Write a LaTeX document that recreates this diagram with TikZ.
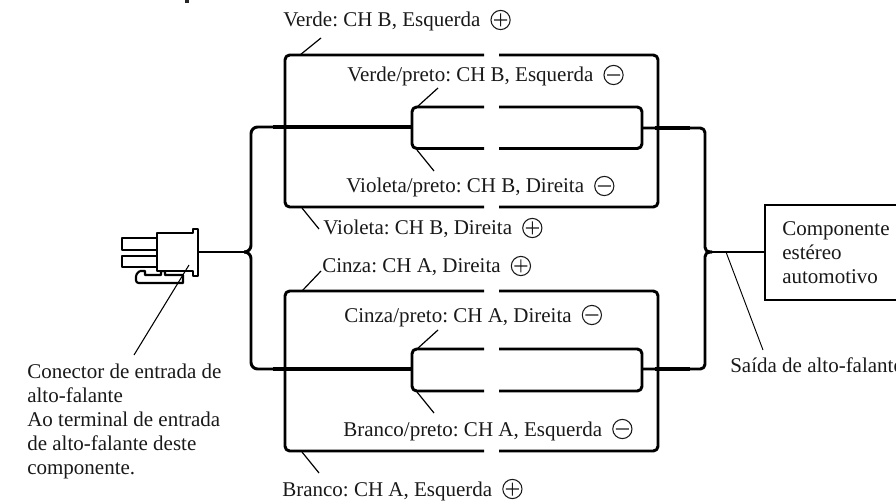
\documentclass[tikz,border=0pt]{standalone}
\usepackage{fontspec}
\setmainfont{Liberation Serif}
\frenchspacing
\tikzset{
  wire/.style={line width=2.2pt,line join=round,rounded corners=3.5pt},
  thin leader/.style={line width=0.9pt},
  lab/.style={inner sep=0pt,anchor=base west,font=\fontsize{15.75}{18}\selectfont,text=black!90},
  multi/.style={inner sep=0pt,anchor=north west,align=left,font=\fontsize{15.75}{18}\selectfont,text=black!90},
  conn/.style={line width=1.6pt,line join=round,fill=white}
}
\newcommand{\cplus}{\hspace{3.6pt}\tikz[baseline=0pt,x=0.75pt,y=0.75pt]{\draw[line width=0.8pt] (0,7) circle (9.6) (-6.5,7)--(6.5,7) (0,0.5)--(0,13.5);}}
\newcommand{\cminus}{\hspace{3.6pt}\tikz[baseline=0pt,x=0.75pt,y=0.75pt]{\draw[line width=0.8pt] (0,7) circle (9.6) (-6.5,7)--(6.5,7);}}
\begin{document}
\begin{tikzpicture}[x=0.75pt,y=-0.75pt]
\useasboundingbox (0,0) rectangle (896,502);
\clip (0,0) rectangle (896,502);
\fill[black!85] (185,0) rectangle (188.5,3);
% connector
\draw[conn] (122,238) rectangle (157,250);
\draw[conn] (122,256) rectangle (157,267);
\draw[conn] (140,271) -- (145,271) -- (145,275) -- (161,275) -- (161,271) -- (165,271) -- (165,275) -- (183,275) -- (183,283) -- (139,283) [rounded corners=2pt] -- (136,283) -- (136,274) -- (140,271);
\draw[line width=1.6pt,fill=white,line join=round] (157,233) -- (193,233) -- (193,229) -- (198,229) -- (198,276) -- (193,276) -- (193,271) -- (157,271) -- cycle;
\coordinate (cj) at (198,252);
% left tree
\draw[line width=1.9pt] (cj) -- (244,252);
\draw[wire,rounded corners=5pt] (244,252) -- (251,252) -- (251,127) -- (273,127);
\draw[wire,rounded corners=5pt] (244,252) -- (251,252) -- (251,369) -- (273,369);
\draw[line width=2.6pt] (273,127) -- (412,127);
\draw[line width=2.6pt] (273,369) -- (412,369);
\draw[line width=3.4pt] (273,127) -- (285,127);
\draw[line width=3.4pt] (273,369) -- (285,369);
% top block
\draw[wire] (484,55) -- (285,55) -- (285,207) -- (484,207);
\draw[wire] (499,55) -- (658,55) -- (658,207) -- (499,207);
\draw[wire] (484,107) -- (412,107) -- (412,148.5) -- (484,148.5);
\draw[wire] (499,107) -- (642,107) -- (642,148.5) -- (499,148.5);
\draw[wire] (642,128) -- (705,128) -- (705,252) -- (712,252);
\draw[line width=3pt] (655,128) -- (690,128);
% bottom block
\draw[wire] (484,291) -- (285,291) -- (285,451) -- (484,451);
\draw[wire] (499,291) -- (658,291) -- (658,451) -- (499,451);
\draw[wire] (484,349) -- (412,349) -- (412,391) -- (484,391);
\draw[wire] (499,349) -- (642,349) -- (642,391) -- (499,391);
\draw[wire] (642,369) -- (705,369) -- (705,252) -- (712,252);
\draw[line width=3pt] (655,369) -- (690,369);
% box
\node[draw,line width=1.4pt,minimum width=160,minimum height=71.25,anchor=north west,inner sep=0pt] (box) at (764,204) {};
\draw[wire] (712,252) -- (box.west |- 712,252);
\node[multi] (compo) at (782,221) {Componente\\estéreo\\automotivo};
% leaders and labels
\node[lab] (l1) at (283,27) {Verde: CH B, Esquerda \cplus};
\coordinate (a1) at (321,38); \coordinate (b1) at (300,55);
\draw[thin leader] (a1) -- (b1);
\node[lab] (l2) at (347,82) {Verde/preto: CH B, Esquerda \cminus};
\coordinate (a2) at (438,88); \coordinate (b2) at (417,107);
\draw[thin leader] (a2) -- (b2);
\node[lab] (l3) at (346,193) {Violeta/preto: CH B, Direita \cminus};
\coordinate (a3) at (417,150); \coordinate (b3) at (434,171);
\draw[thin leader] (a3) -- (b3);
\node[lab] (l4) at (323,235) {Violeta: CH B, Direita \cplus};
\coordinate (a4) at (302,208); \coordinate (b4) at (319,229);
\draw[thin leader] (a4) -- (b4);
\node[lab] (l5) at (322,273) {Cinza: CH A, Direita \cplus};
\coordinate (a5) at (321,271); \coordinate (b5) at (302,291);
\draw[thin leader] (a5) -- (b5);
\node[lab] (l6) at (344,322) {Cinza/preto: CH A, Direita \cminus};
\coordinate (a6) at (438,330); \coordinate (b6) at (417,349);
\draw[thin leader] (a6) -- (b6);
\node[lab] (l7) at (343,436) {Branco/preto: CH A, Esquerda \cminus};
\coordinate (a7) at (417,392); \coordinate (b7) at (434,413);
\draw[thin leader] (a7) -- (b7);
\node[lab] (l8) at (282,496) {Branco: CH A, Esquerda \cplus};
\coordinate (a8) at (302,452); \coordinate (b8) at (319,473);
\draw[thin leader] (a8) -- (b8);
\node[lab] (l9) at (730,372) {Saída de alto-falante};
\coordinate (a9) at (726,252); \coordinate (b9) at (763,350);
\draw[line width=0.7pt] (a9) -- (b9);
\node[multi] (l10) at (27,364) {Conector de entrada de\\alto-falante\\Ao terminal de entrada\\de alto-falante deste\\componente.};
\coordinate (a10) at (189,265); \coordinate (b10) at (134,355);
\draw[line width=0.8pt] (a10) -- (b10);
\end{tikzpicture}
\end{document}
